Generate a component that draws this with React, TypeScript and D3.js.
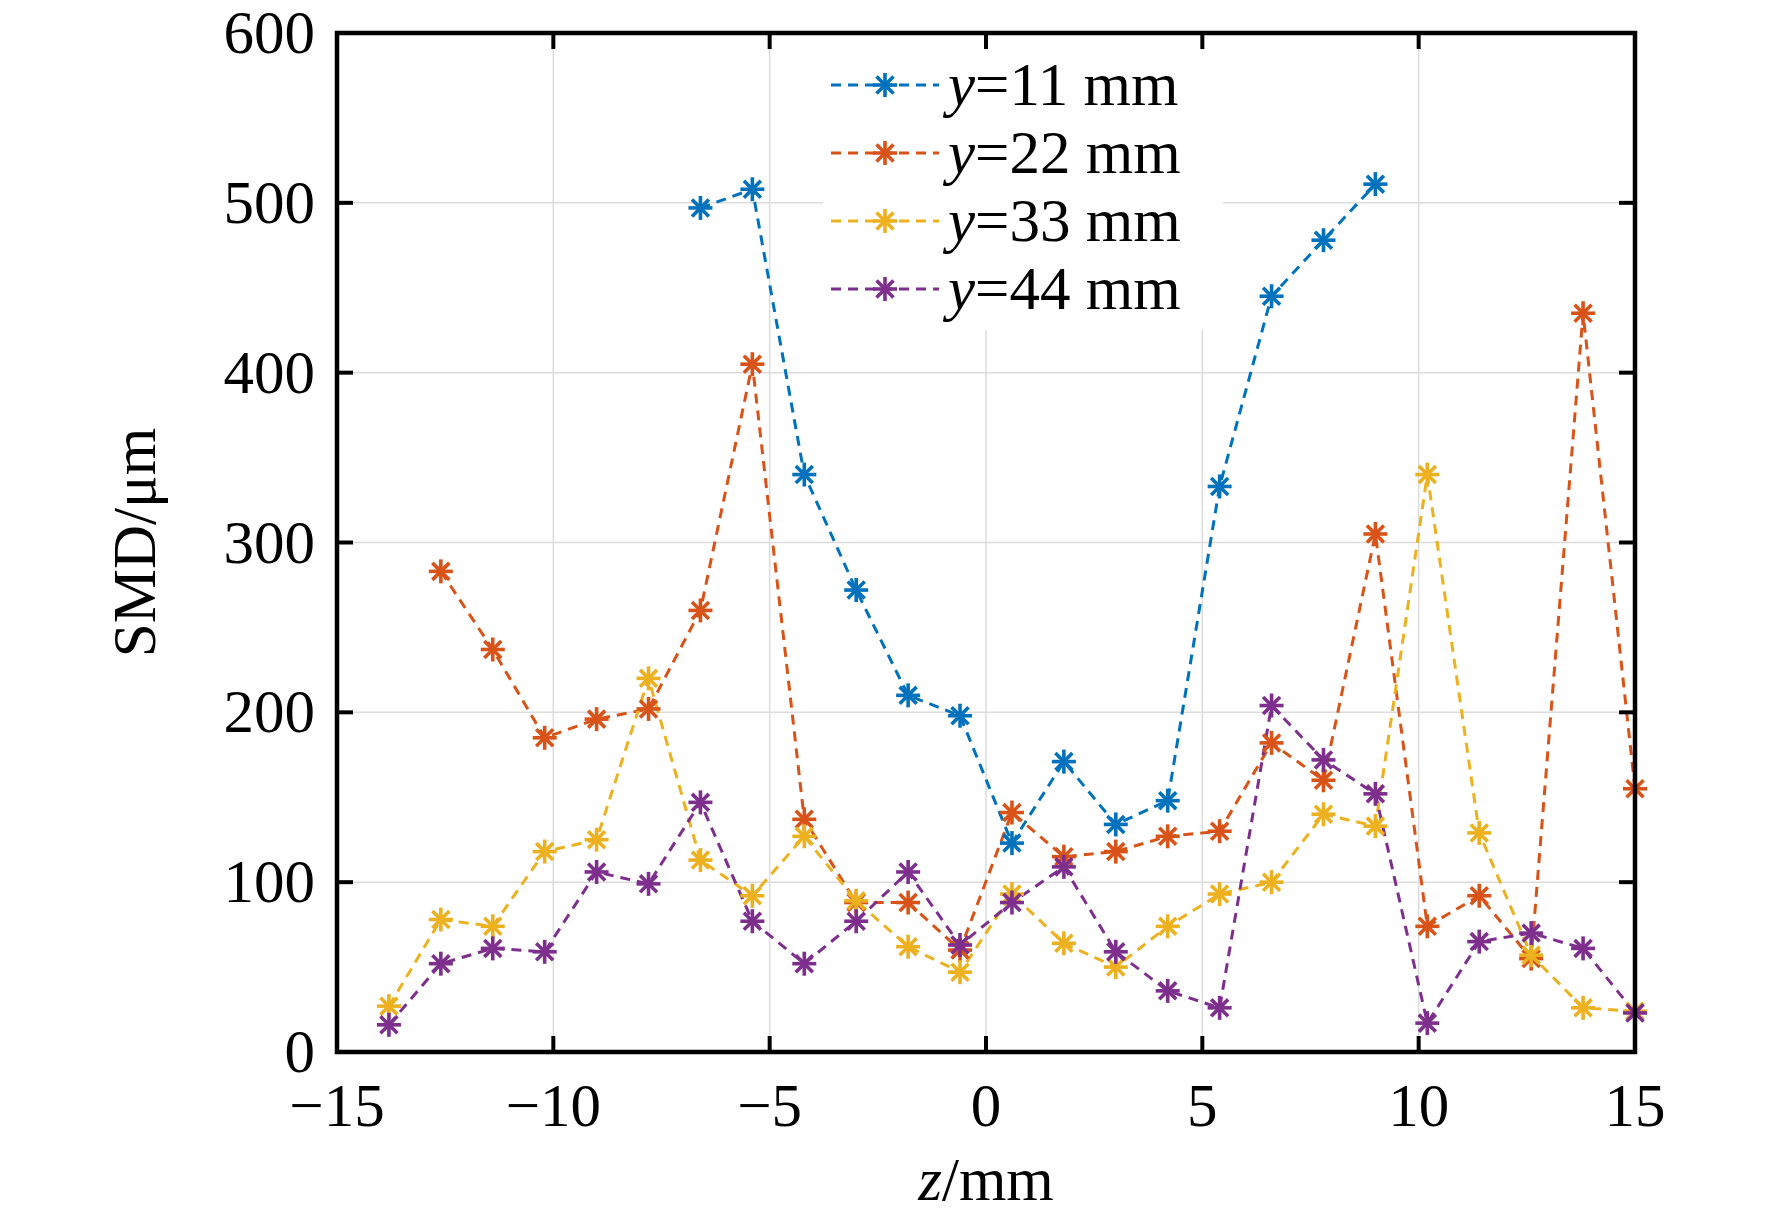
import React, { useEffect, useRef } from "react";
import * as d3 from "d3";

const zValues = [-13.8, -12.6, -11.4, -10.2, -9.0, -7.8, -6.6, -5.4, -4.2, -3.0, -1.8, -0.6, 0.6, 1.8, 3.0, 4.2, 5.4, 6.6, 7.8, 9.0, 10.2, 11.4, 12.6, 13.8, 15.0];

// null = no measurement
const smdY11 = [null, null, null, null, null, null, 497, 508, 340, 272, 210, 198, 123, 171, 134, 148, 333, 445, 478, 511, null, null, null, null, null];
const smdY22 = [null, 283, 237, 185, 196, 202, 260, 405, 137, 88, 88, 60, 141, 115, 118, 127, 130, 182, 160, 305, 74, 92, 55, 435, 155];
const smdY33 = [27, 78, 74, 118, 125, 220, 113, 92, 127, 89, 62, 47, 93, 64, 50, 74, 93, 100, 140, 133, 340, 129, 57, 26, 24];
const smdY44 = [16, 52, 61, 59, 106, 99, 147, 77, 52, 77, 106, 63, 88, 109, 59, 36, 26, 204, 172, 152, 17, 65, 70, 61, 23];

const seriesNames = ["11", "22", "33", "44"];
const seriesColors = ["#0072BD", "#D95319", "#EDB120", "#7E2F8E"];
const xTicks = [-15, -10, -5, 0, 5, 10, 15];
const yTicks = [0, 100, 200, 300, 400, 500, 600];

const W = 1772;
const H = 1223;
const margin = { left: 337, right: W - 1635, top: 33, bottom: H - 1052 };
const font = "'Liberation Serif', 'Times New Roman', serif";
const fs = 61;

const App = () => {
  const ref = useRef<SVGSVGElement>(null);

  useEffect(() => {
    const svg = d3.select(ref.current);
    svg.selectAll("*").remove();
    const pw = W - margin.left - margin.right;
    const ph = H - margin.top - margin.bottom;
    const x = d3.scaleLinear().domain([-15, 15]).range([0, pw]);
    const y = d3.scaleLinear().domain([0, 600]).range([ph, 0]);

    svg.append("defs").append("clipPath").attr("id", "clip")
      .append("rect").attr("width", pw).attr("height", ph);

    const g = svg.append("g").attr("transform", `translate(${margin.left},${margin.top})`);

    // grid
    g.selectAll(".gx").data(xTicks).enter().append("line")
      .attr("x1", (d) => x(d)).attr("x2", (d) => x(d)).attr("y1", 0).attr("y2", ph)
      .attr("stroke", "#dcdcdc").attr("stroke-width", 1.5);
    g.selectAll(".gy").data(yTicks).enter().append("line")
      .attr("y1", (d) => y(d)).attr("y2", (d) => y(d)).attr("x1", 0).attr("x2", pw)
      .attr("stroke", "#dcdcdc").attr("stroke-width", 1.5);

    const all = [smdY11, smdY22, smdY33, smdY44];
    const plot = g.append("g").attr("clip-path", "url(#clip)");
    const line = d3.line<[number, number | null]>()
      .defined((d) => d[1] !== null)
      .x((d) => x(d[0])).y((d) => y(d[1] as number));

    const star = (sel: any, color: string, r: number) => {
      for (let k = 0; k < 4; k++) {
        const a = (k * Math.PI) / 4;
        sel.append("line")
          .attr("x1", -r * Math.cos(a)).attr("y1", -r * Math.sin(a))
          .attr("x2", r * Math.cos(a)).attr("y2", r * Math.sin(a))
          .attr("stroke", color).attr("stroke-width", 3.6);
      }
    };

    all.forEach((vals, i) => {
      const pts = zValues.map((z, j) => [z, vals[j]] as [number, number | null]);
      plot.append("path").datum(pts).attr("d", line)
        .attr("fill", "none").attr("stroke", seriesColors[i])
        .attr("stroke-width", 3).attr("stroke-dasharray", "10,7");
      pts.filter((p) => p[1] !== null).forEach((p) => {
        const m = g.append("g").attr("transform", `translate(${x(p[0])},${y(p[1] as number)})`);
        star(m, seriesColors[i], 12);
      });
    });

    // frame + ticks
    g.append("rect").attr("width", pw).attr("height", ph)
      .attr("fill", "none").attr("stroke", "#000").attr("stroke-width", 4.5);
    const tl = 16;
    xTicks.forEach((t) => {
      g.append("line").attr("x1", x(t)).attr("x2", x(t)).attr("y1", ph).attr("y2", ph - tl).attr("stroke", "#000").attr("stroke-width", 4);
      g.append("line").attr("x1", x(t)).attr("x2", x(t)).attr("y1", 0).attr("y2", tl).attr("stroke", "#000").attr("stroke-width", 4);
      g.append("text").attr("x", x(t)).attr("y", ph + 74).attr("text-anchor", "middle")
        .attr("font-family", font).attr("font-size", fs)
        .text(t < 0 ? "\u2212" + Math.abs(t) : String(t));
    });
    yTicks.forEach((t) => {
      g.append("line").attr("y1", y(t)).attr("y2", y(t)).attr("x1", 0).attr("x2", tl).attr("stroke", "#000").attr("stroke-width", 4);
      g.append("line").attr("y1", y(t)).attr("y2", y(t)).attr("x1", pw).attr("x2", pw - tl).attr("stroke", "#000").attr("stroke-width", 4);
      g.append("text").attr("x", -22).attr("y", y(t) + 20).attr("text-anchor", "end")
        .attr("font-family", font).attr("font-size", fs).text(String(t));
    });

    // axis labels
    const xl = svg.append("text").attr("x", margin.left + pw / 2).attr("y", 1200)
      .attr("text-anchor", "middle").attr("font-family", font).attr("font-size", fs);
    xl.append("tspan").attr("font-style", "italic").text("z");
    xl.append("tspan").text("/mm");
    svg.append("text").attr("transform", `translate(155,${margin.top + ph / 2}) rotate(-90)`)
      .attr("text-anchor", "middle").attr("font-family", font).attr("font-size", fs)
      .text("SMD/\u03bcm");

    // legend
    const lg = g.append("g").attr("transform", `translate(${823 - margin.left},${50 - margin.top})`);
    lg.append("rect").attr("x", 0).attr("y", 0).attr("width", 400).attr("height", 280).attr("fill", "#fff");
    seriesNames.forEach((n, i) => {
      const cy = 35 + i * 68;
      lg.append("line").attr("x1", 8).attr("x2", 116).attr("y1", cy).attr("y2", cy)
        .attr("stroke", seriesColors[i]).attr("stroke-width", 3).attr("stroke-dasharray", "10,7");
      star(lg.append("g").attr("transform", `translate(62,${cy})`), seriesColors[i], 12);
      const t = lg.append("text").attr("x", 125).attr("y", cy + 20)
        .attr("font-family", font).attr("font-size", fs);
      t.append("tspan").attr("font-style", "italic").text("y");
      t.append("tspan").text(`=${n} mm`);
    });
  }, []);

  return <svg ref={ref} width={W} height={H} style={{ display: "block", background: "#fff", margin: -8 }} />;
};

export default App;
